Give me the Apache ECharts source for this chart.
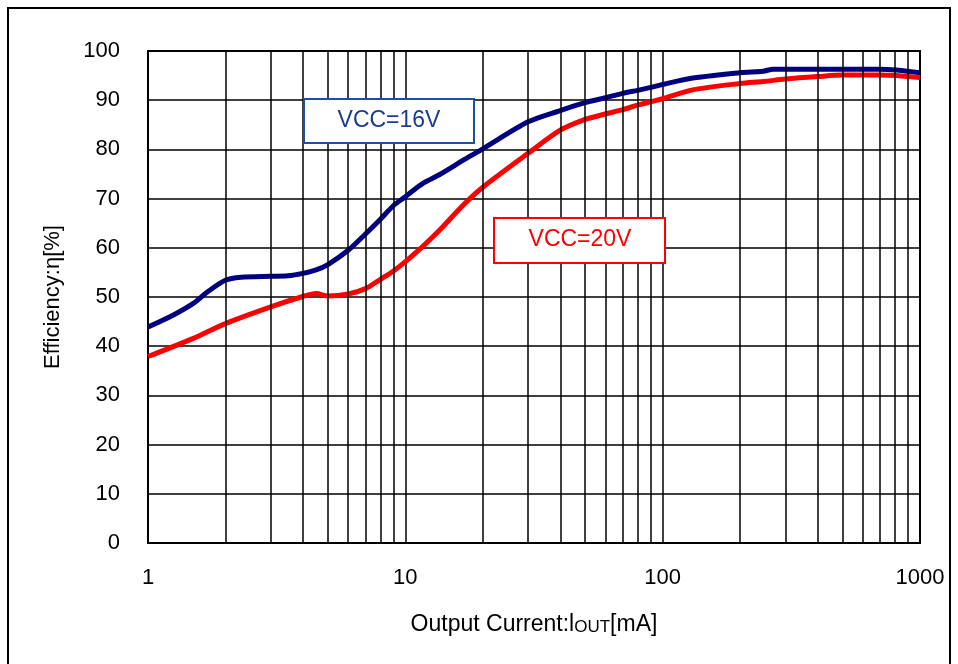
<!DOCTYPE html>
<html>
<head>
<meta charset="utf-8">
<script src="https://cdn.jsdelivr.net/npm/echarts@6/dist/echarts.min.js"></script>
<style>
html,body{margin:0;padding:0;background:#fff;}
#chart{width:958px;height:664px;}
</style>
</head>
<body>
<div id="chart"></div>
<script>
// Data
var vcc16X = [1, 1.25, 1.5, 1.7, 2, 2.3, 3, 3.5, 4, 4.5, 5, 6, 7, 8, 9, 10, 11.7, 13.6, 16.8, 20, 30, 40, 50, 60, 70, 80, 90, 100, 131, 200, 246, 269, 300, 500, 700, 1000];
var vcc16Y = [43.9, 46.3, 48.7, 51.0, 53.4, 54.0, 54.2, 54.3, 54.8, 55.5, 56.6, 59.5, 62.8, 65.8, 68.6, 70.4, 73.1, 74.9, 77.8, 80.1, 85.6, 87.9, 89.5, 90.5, 91.4, 92.0, 92.6, 93.2, 94.5, 95.6, 95.9, 96.3, 96.3, 96.3, 96.3, 95.6];
var vcc20X = [1, 1.5, 2, 3, 4, 4.5, 5, 6, 7, 8, 9, 10, 11.7, 13.6, 16.8, 20, 30, 40, 50, 60, 70, 80, 90, 100, 131, 200, 246, 300, 400, 500, 700, 1000];
var vcc20Y = [37.9, 41.6, 44.6, 48.0, 50.1, 50.7, 50.2, 50.6, 51.7, 53.6, 55.3, 57.2, 60.3, 63.6, 68.7, 72.3, 79.2, 83.9, 86.1, 87.2, 88.1, 89.0, 89.7, 90.3, 92.1, 93.4, 93.8, 94.3, 94.8, 95.1, 95.1, 94.6];
var minorGridX = [2, 3, 4, 5, 6, 7, 8, 9, 20, 30, 40, 50, 60, 70, 80, 90, 200, 300, 400, 500, 600, 700, 800, 900];
var xTickLabels = [1, 10, 100, 1000];
var seriesNames = ['VCC=16V', 'VCC=20V'];

function pairs(xs, ys) { return xs.map(function (x, i) { return [x, ys[i]]; }); }

var FONT = '"Liberation Sans", Arial, sans-serif';
var chart = echarts.init(document.getElementById('chart'), null, {renderer: 'canvas'});
chart.setOption({
  backgroundColor: '#ffffff',
  animation: false,
  grid: {left: 148, right: 38, top: 51, bottom: 121, show: true, borderColor: '#000', borderWidth: 2, backgroundColor: 'transparent'},
  xAxis: {
    type: 'log', logBase: 10, min: 1, max: 1000,
    axisLine: {show: true, lineStyle: {color: '#000', width: 2}},
    axisTick: {show: false},
    axisLabel: {color: '#000', fontFamily: FONT, fontSize: 22, margin: 24,
      formatter: function (v) { return xTickLabels.indexOf(v) >= 0 ? String(v) : ''; }},
    splitLine: {show: true, lineStyle: {color: '#000', width: 1.5}},
    name: 'Output Current:l{s|OUT}[mA]',
    nameLocation: 'middle', nameGap: 70,
    nameTextStyle: {color: '#000', fontFamily: FONT, fontSize: 23,
      rich: {s: {fontFamily: FONT, fontSize: 17, color: '#000', verticalAlign: 'bottom'}}}
  },
  yAxis: {
    type: 'value', min: 0, max: 100, interval: 10,
    axisLine: {show: true, lineStyle: {color: '#000', width: 2}},
    axisTick: {show: false},
    axisLabel: {color: '#000', fontFamily: FONT, fontSize: 22, margin: 28},
    splitLine: {show: true, lineStyle: {color: '#000', width: 1.5}},
    name: 'Efficiency:η[%]', nameLocation: 'middle', nameGap: 84,
    nameTextStyle: {color: '#000', fontFamily: FONT, fontSize: 22}
  },
  series: [
    {
      name: 'grid', type: 'line', data: [], silent: true,
      markLine: {
        silent: true, symbol: ['none', 'none'], label: {show: false},
        lineStyle: {color: '#000', width: 1.5, type: 'solid'},
        data: minorGridX.map(function (x) { return {xAxis: x}; })
      },
      z: 1
    },
    {
      name: seriesNames[1], type: 'line', data: pairs(vcc20X, vcc20Y),
      smooth: 0.3, showSymbol: false, lineStyle: {color: '#ff0000', width: 5}, z: 3
    },
    {
      name: seriesNames[0], type: 'line', data: pairs(vcc16X, vcc16Y),
      smooth: 0.3, showSymbol: false, lineStyle: {color: '#000080', width: 5}, z: 4
    }
  ],
  graphic: [
    {type: 'rect', shape: {x: 8, y: 8, width: 942, height: 680}, style: {fill: 'none', stroke: '#000', lineWidth: 2}, silent: true},
    {type: 'rect', shape: {x: 304, y: 99, width: 170, height: 44}, style: {fill: '#fff', stroke: '#1f4fa0', lineWidth: 2}, z: 10},
    {type: 'text', x: 389, y: 121, style: {text: seriesNames[0], fill: '#1a3d91', font: '23px ' + FONT, textAlign: 'center', textVerticalAlign: 'middle'}, z: 11},
    {type: 'rect', shape: {x: 494, y: 218, width: 171, height: 45}, style: {fill: '#fff', stroke: '#ff0000', lineWidth: 2}, z: 10},
    {type: 'text', x: 580, y: 240, style: {text: seriesNames[1], fill: '#ff0000', font: '23px ' + FONT, textAlign: 'center', textVerticalAlign: 'middle'}, z: 11}
  ]
});
</script>
</body>
</html>
